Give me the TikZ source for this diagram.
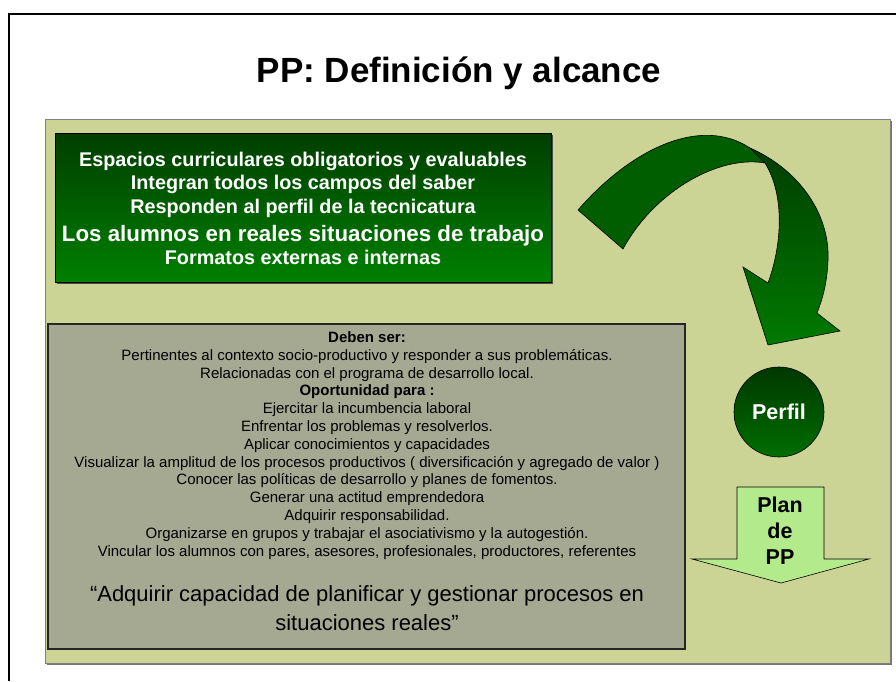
\documentclass[tikz,border=0pt]{standalone}
\usepackage{fontspec}
\setmainfont{Liberation Sans}
\usepackage{xcolor}
\usepackage{tikz}
\usetikzlibrary{calc, positioning}

\definecolor{nenolive}{RGB}{204,212,149}
\definecolor{hopxam}{RGB}{165,169,146}
\definecolor{xanhdam}{RGB}{0,62,0}
\definecolor{xanhvua}{RGB}{0,128,0}
\definecolor{xanhduoi}{RGB}{0,94,0}
\definecolor{xanhsang}{RGB}{0,122,0}
\definecolor{xanhnhat}{RGB}{179,235,140}

\tikzset{
    chuxanh/.style={anchor=base, inner sep=0pt, text=white,
        font=\fontsize{19.8}{23}\selectfont\bfseries},
    chuxam/.style={anchor=base, inner sep=0pt,
        font=\fontsize{15}{18}\selectfont}
}

\begin{document}
\begin{tikzpicture}[x=1pt, y=-1pt, >=latex]
    % Khung
    \useasboundingbox (0,0) rectangle (896,681);
    \fill[white] (0,0) rectangle (896,681);
    \draw[line width=2.5pt] (9,681) -- (9,14) -- (896,14);
    
    % Tiêu đề
    \node[anchor=base, inner sep=0pt, font=\fontsize{35}{40}\selectfont\bfseries]
        (titulo) at (459,82) {PP: Definición y alcance};
    
    % Nền
    \fill[black!55] (47,121) rectangle (892,665);
    \draw[fill=nenolive, draw=black!50, line width=0.8pt] (45,119) rectangle (890,663);
    
    % Hộp xanh
    \fill[black!70] (57,135) rectangle (553,284);
    \draw[top color=xanhdam, bottom color=xanhvua, line width=0.8pt] (55,133) rectangle (551,282);
    \foreach \yy/\txt/\nom in {166/{Espacios curriculares obligatorios y evaluables}/v1,
        189/{Integran todos los campos del saber}/v2,
        213/{Responden al perfil de la tecnicatura}/v3,
        264/{Formatos externas e internas}/v5}
        \node[chuxanh] (\nom) at (303,\yy) {\txt};
    \node[chuxanh, font=\fontsize{22.3}{26}\selectfont\bfseries] (v4) at (303,241)
        {Los alumnos en reales situaciones de trabajo};
    
    % Hộp xám
    \draw[fill=hopxam, draw=black!85, line width=1.2pt] (48,324) rectangle (685,649);
    \foreach \txt [count=\i] in {{\textbf{Deben ser:}},
        {Pertinentes al contexto socio-productivo y responder a sus problemáticas.},
        {Relacionadas con el programa de desarrollo local.},
        {\textbf{Oportunidad para :}},
        {Ejercitar la incumbencia laboral},
        {Enfrentar los problemas y resolverlos.},
        {Aplicar conocimientos y capacidades},
        {Visualizar la amplitud de los procesos productivos ( diversificación y agregado de valor )},
        {Conocer las políticas de desarrollo y planes de fomentos.},
        {Generar una actitud emprendedora},
        {Adquirir responsabilidad.},
        {Organizarse en grupos y trabajar el asociativismo y la autogestión.},
        {Vincular los alumnos con pares, asesores, profesionales, productores, referentes}}
        \node[chuxam] (g\i) at (367,{342.5+17.8*(\i-1)}) {\txt};
    \node[chuxam, font=\fontsize{22}{28}\selectfont] (cita1) at (367,601)
        {“Adquirir capacidad de planificar y gestionar procesos en};
    \node[chuxam, font=\fontsize{22}{28}\selectfont] (cita2) at (367,630)
        {situaciones reales”};
    
    % Mũi tên cong
    \draw[fill=xanhduoi, line width=0.6pt] (578,210) .. controls (630,150) and (700,115) .. (750,148)
        -- (765,163) .. controls (720,155) and (655,190) .. (623,249) -- cycle;
    \draw[top color=xanhdam, bottom color=xanhsang, line width=0.6pt]
        (750,148) .. controls (800,170) and (830,215) .. (828,260)
        .. controls (827,285) and (822,300) .. (817,313)
        -- (840,331) -- (768,345) -- (743,267) -- (768,283)
        .. controls (782,245) and (785,195) .. (765,163) -- cycle;
    
    % Perfil
    \node[circle, draw, line width=0.6pt, minimum size=90pt, inner sep=0pt,
        top color=xanhdam!90!black, bottom color=xanhsang!90!black, text=white,
        font=\fontsize{21.5}{25}\selectfont\bfseries] (perfil) at (779,412) {Perfil};
    
    % Mũi tên kế hoạch
    \draw[fill=xanhnhat, line width=0.6pt] (737,487) -- (824,487) -- (824,559) -- (869,559)
        -- (781,583) -- (692,559) -- (737,559) -- cycle;
    \node[align=center, inner sep=0pt, font=\fontsize{21.5}{26}\selectfont\bfseries]
        (plan) at (780,531) {Plan\\de\\PP};
\end{tikzpicture}
\end{document}
